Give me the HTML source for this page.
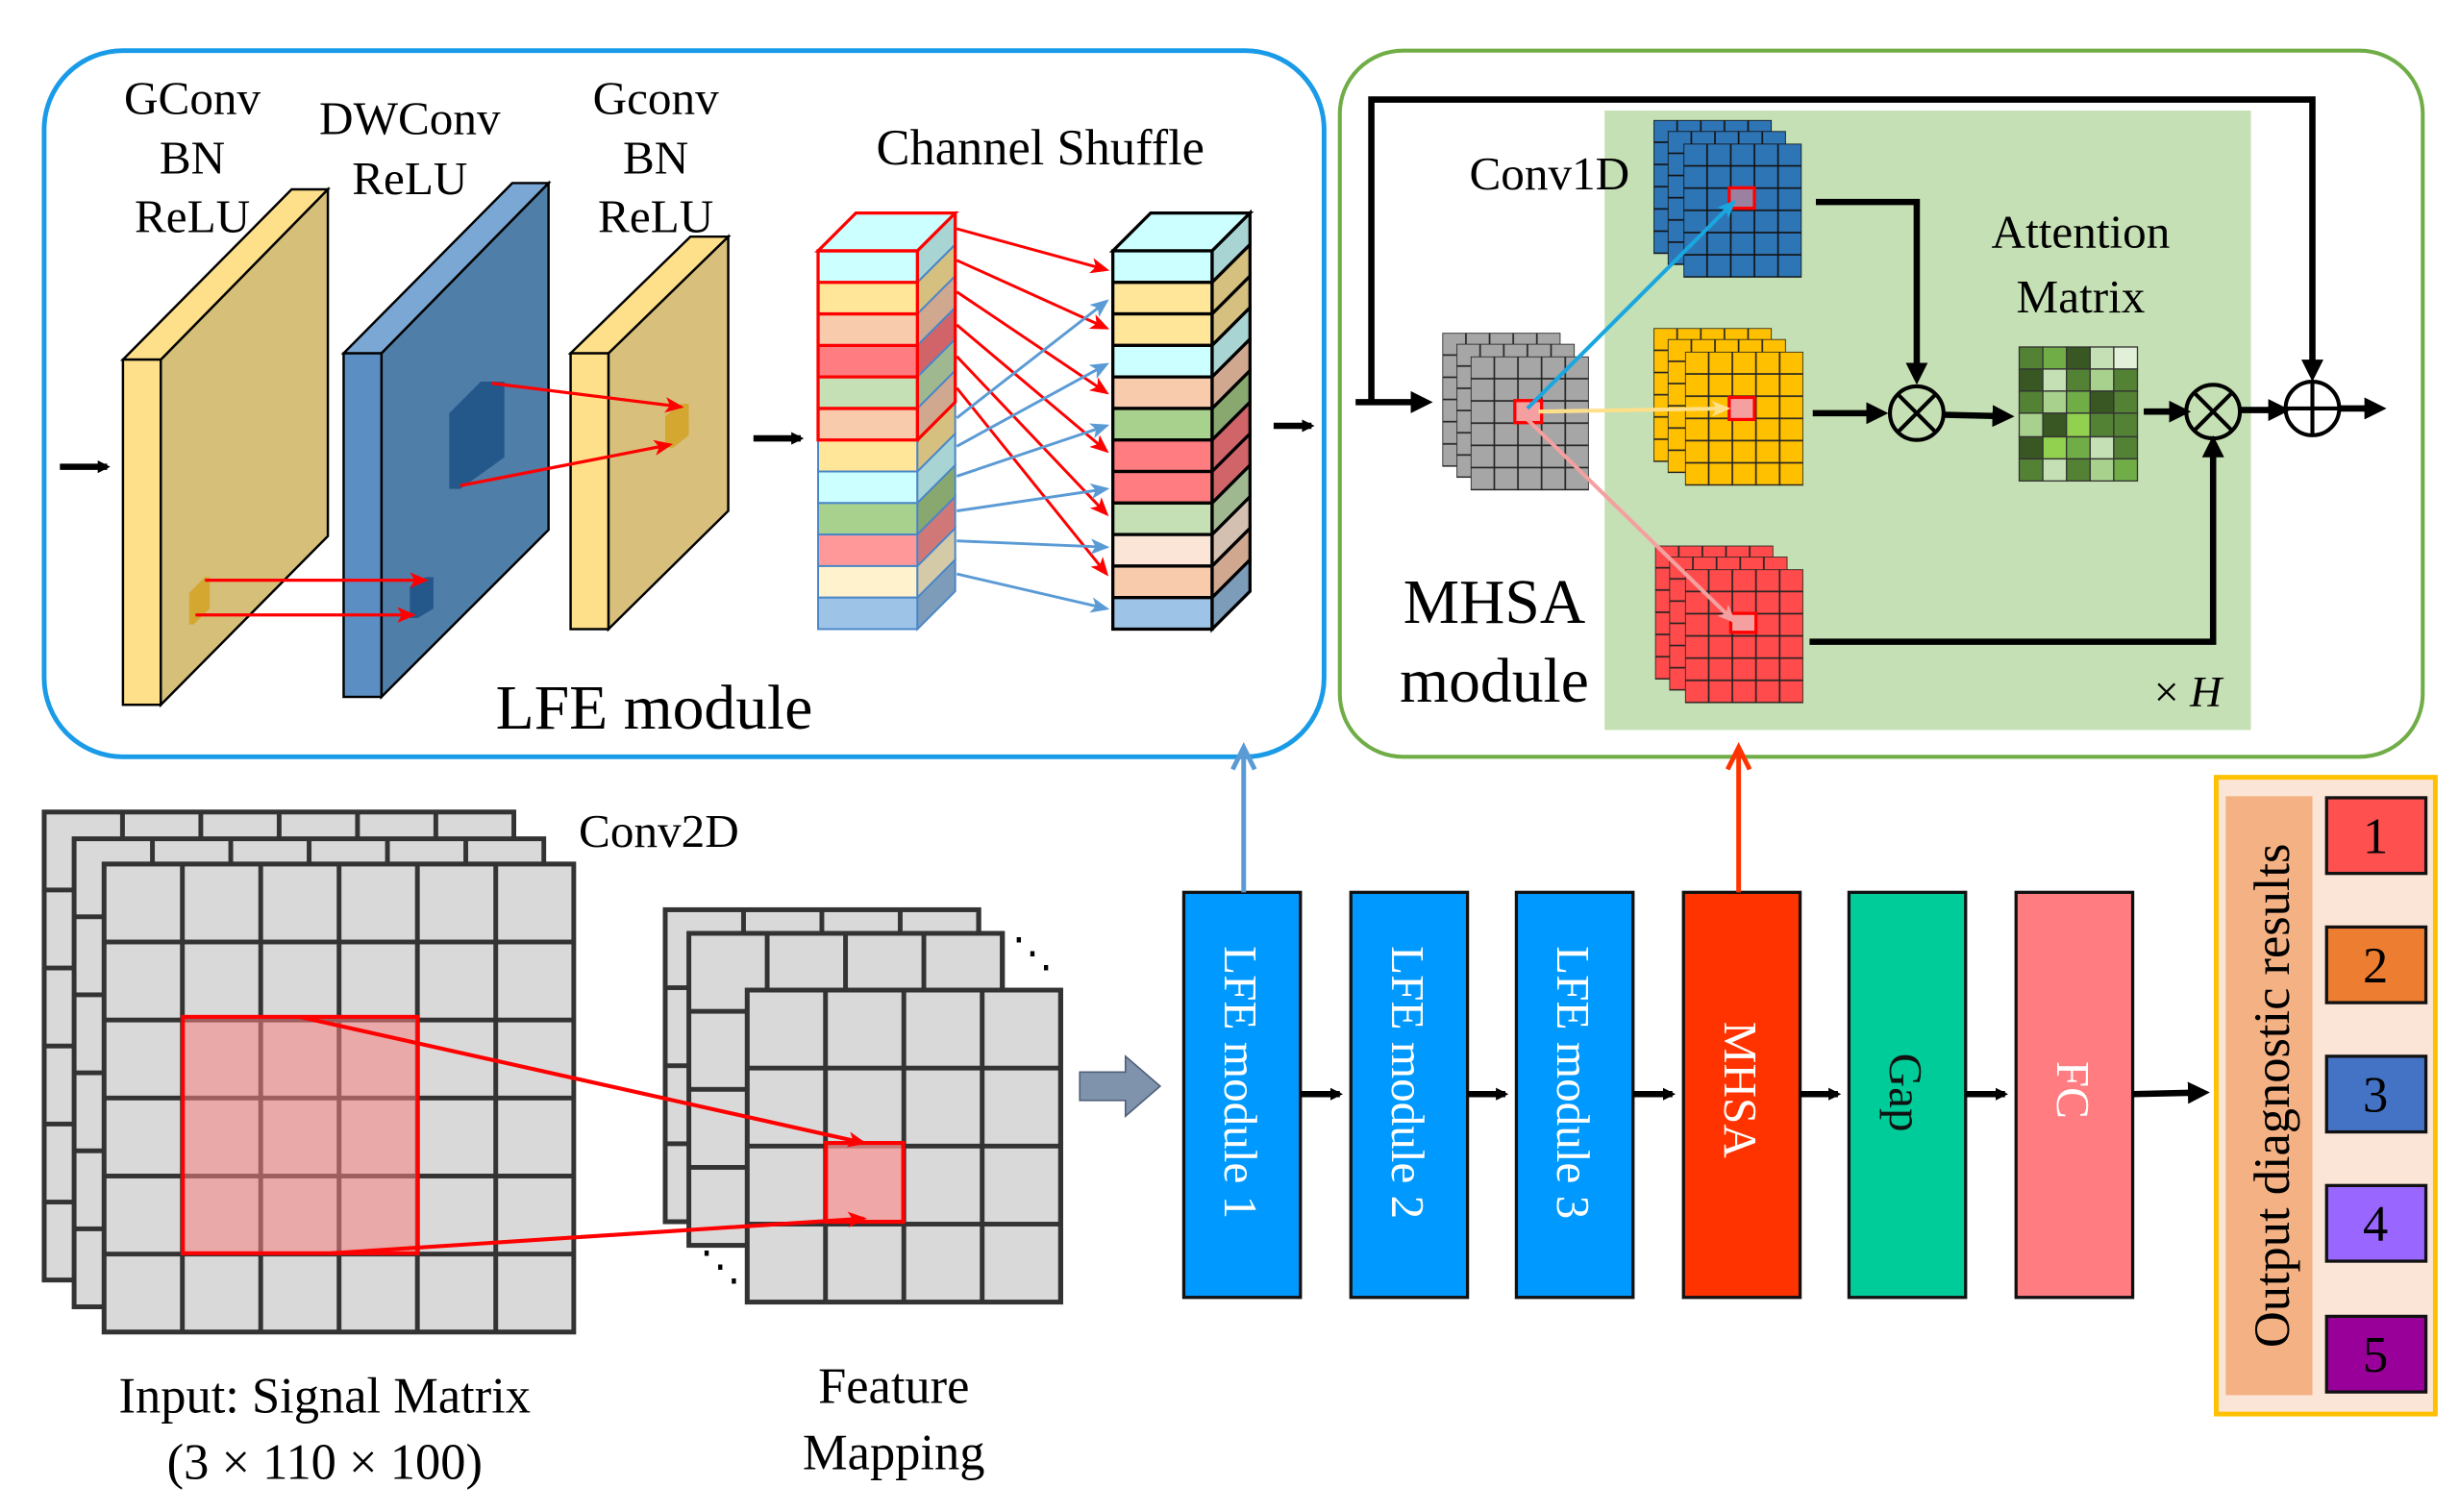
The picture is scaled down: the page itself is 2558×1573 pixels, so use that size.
<!DOCTYPE html>
<html><head><meta charset="utf-8"><style>html,body{margin:0;padding:0;background:#fff}svg{display:block}svg text{font-family:"Liberation Serif","Times New Roman",serif}</style></head><body>
<svg width="2558" height="1573" viewBox="0 0 1560 959" xmlns="http://www.w3.org/2000/svg" font-family="'Liberation Serif', serif">
<defs>
<marker id="ab" markerWidth="8" markerHeight="8" refX="6" refY="4" orient="auto" markerUnits="userSpaceOnUse"><path d="M0,0 L8,4 L0,8 z" fill="#000"/></marker>
<marker id="abig" markerWidth="14" markerHeight="14" refX="10" refY="7" orient="auto" markerUnits="userSpaceOnUse"><path d="M0,0 L14,7 L0,14 z" fill="#000"/></marker>
<marker id="ar" markerWidth="12" markerHeight="10" refX="10" refY="5" orient="auto" markerUnits="userSpaceOnUse"><path d="M0,0 L12,5 L0,10 L3,5 z" fill="#f00"/></marker>
<marker id="abl" markerWidth="12" markerHeight="10" refX="10" refY="5" orient="auto" markerUnits="userSpaceOnUse"><path d="M0,0 L12,5 L0,10 L3,5 z" fill="#5b9bd5"/></marker>
<marker id="acy" markerWidth="12" markerHeight="10" refX="10" refY="5" orient="auto" markerUnits="userSpaceOnUse"><path d="M0,0 L12,5 L0,10 L3,5 z" fill="#1aa7e0"/></marker>
<marker id="aye" markerWidth="12" markerHeight="10" refX="10" refY="5" orient="auto" markerUnits="userSpaceOnUse"><path d="M0,0 L12,5 L0,10 L3,5 z" fill="#ffe08a"/></marker>
<marker id="apk" markerWidth="12" markerHeight="10" refX="10" refY="5" orient="auto" markerUnits="userSpaceOnUse"><path d="M0,0 L12,5 L0,10 L3,5 z" fill="#f4a0a0"/></marker>
<pattern id="g50" width="49.7" height="49.5" patternUnits="userSpaceOnUse"><rect width="49.7" height="49.5" fill="#d9d9d9" stroke="#333" stroke-width="3"/></pattern>
<pattern id="gg" width="15" height="14.1" patternUnits="userSpaceOnUse"><rect width="15" height="14.1" fill="#a6a6a6" stroke="#222" stroke-width="1"/></pattern>
<pattern id="gb" width="15" height="14.1" patternUnits="userSpaceOnUse"><rect width="15" height="14.1" fill="#2e75b6" stroke="#111" stroke-width="1"/></pattern>
<pattern id="gy" width="15" height="14.1" patternUnits="userSpaceOnUse"><rect width="15" height="14.1" fill="#ffc000" stroke="#222" stroke-width="1"/></pattern>
<pattern id="gr" width="15" height="14.1" patternUnits="userSpaceOnUse"><rect width="15" height="14.1" fill="#ff4b4b" stroke="#222" stroke-width="1"/></pattern>
</defs>

<rect x="28" y="32" width="812" height="448" rx="50" fill="none" stroke="#1a9be8" stroke-width="3"/>
<line x1="38" y1="296" x2="68" y2="296" stroke="#000" stroke-width="4" marker-end="url(#ab)"/>
<polygon points="102,228 208,120 208,340 102,447" fill="#d6bf78" stroke="#000" stroke-width="1.5"/>
<polygon points="78,228 102,228 208,120 185,120" fill="#ffe08a" stroke="#000" stroke-width="1.5"/>
<rect x="78" y="228" width="24" height="219" fill="#ffe08a" stroke="#000" stroke-width="1.5"/>
<polygon points="120,376 130,366 133,366 133,386 123,396 120,396" fill="#d4a830"/>
<polygon points="242,224 348,116 348,336 242,442" fill="#4f7ea8" stroke="#000" stroke-width="1.5"/>
<polygon points="218,224 242,224 348,116 325,116" fill="#7aa7d4" stroke="#000" stroke-width="1.5"/>
<rect x="218" y="224" width="24" height="218" fill="#5b8fc4" stroke="#000" stroke-width="1.5"/>
<polygon points="285,262 305,242 320,242 320,290 292,310 285,310" fill="#25588a"/>
<polygon points="260,372 270,366 275,366 275,386 265,392 260,392" fill="#25588a"/>
<polygon points="386,224 462,150 462,324 386,399" fill="#d8c07c" stroke="#000" stroke-width="1.5"/>
<polygon points="362,224 386,224 462,150 438,150" fill="#ffe08a" stroke="#000" stroke-width="1.5"/>
<rect x="362" y="224" width="24" height="175" fill="#ffe08a" stroke="#000" stroke-width="1.5"/>
<polygon points="422,264 432,256 437,256 437,276 427,284 422,284" fill="#d4a830"/>
<line x1="130" y1="368" x2="270" y2="368" stroke="#f00" stroke-width="2" marker-end="url(#ar)"/>
<line x1="124" y1="390" x2="262" y2="390" stroke="#f00" stroke-width="2" marker-end="url(#ar)"/>
<line x1="312" y1="243" x2="432" y2="258" stroke="#f00" stroke-width="2" marker-end="url(#ar)"/>
<line x1="292" y1="308" x2="425" y2="282" stroke="#f00" stroke-width="2" marker-end="url(#ar)"/>
<g font-size="30" text-anchor="middle" fill="#000" font-family="'Liberation Serif', serif">
<text x="122" y="72">GConv</text><text x="122" y="110">BN</text><text x="122" y="147">ReLU</text>
<text x="260" y="85">DWConv</text><text x="260" y="123">ReLU</text>
<text x="416" y="72">Gconv</text><text x="416" y="110">BN</text><text x="416" y="147">ReLU</text>
<text x="660" y="104" font-size="32">Channel Shuffle</text>
<text x="415" y="462" font-size="40">LFE module</text>
</g>
<line x1="478" y1="278" x2="508" y2="278" stroke="#000" stroke-width="4" marker-end="url(#ab)"/>
<g stroke="#4a86c8" stroke-width="1.2">
<polygon points="519,159 582,159 606,135 543,135" fill="#ccffff"/>
<rect x="519" y="159" width="63" height="20" fill="#ccffff"/><polygon points="582,159 606,135 606,155 582,179" fill="#a8d4d4"/>
<rect x="519" y="179" width="63" height="20" fill="#ffe699"/><polygon points="582,179 606,155 606,175 582,199" fill="#d6c080"/>
<rect x="519" y="199" width="63" height="20" fill="#f8cbad"/><polygon points="582,199 606,175 606,195 582,219" fill="#d0a890"/>
<rect x="519" y="219" width="63" height="20" fill="#ff7c80"/><polygon points="582,219 606,195 606,215 582,239" fill="#d06468"/>
<rect x="519" y="239" width="63" height="20" fill="#c5e0b4"/><polygon points="582,239 606,215 606,235 582,259" fill="#a0b890"/>
<rect x="519" y="259" width="63" height="20" fill="#f8cbad"/><polygon points="582,259 606,235 606,255 582,279" fill="#d0a890"/>
<rect x="519" y="279" width="63" height="20" fill="#ffe699"/><polygon points="582,279 606,255 606,275 582,299" fill="#d6c080"/>
<rect x="519" y="299" width="63" height="20" fill="#ccffff"/><polygon points="582,299 606,275 606,295 582,319" fill="#a8d4d4"/>
<rect x="519" y="319" width="63" height="20" fill="#a9d18e"/><polygon points="582,319 606,295 606,315 582,339" fill="#88a870"/>
<rect x="519" y="339" width="63" height="20" fill="#ff9999"/><polygon points="582,339 606,315 606,335 582,359" fill="#d07878"/>
<rect x="519" y="359" width="63" height="20" fill="#fff2cc"/><polygon points="582,359 606,335 606,355 582,379" fill="#d4caa8"/>
<rect x="519" y="379" width="63" height="20" fill="#9dc3e6"/><polygon points="582,379 606,355 606,375 582,399" fill="#7c9cba"/>
</g>
<g fill="none" stroke="#f00" stroke-width="2"><polygon points="519,159 582,159 606,135 543,135"/><rect x="519" y="159" width="63" height="120"/><line x1="519" y1="179" x2="582" y2="179"/><line x1="519" y1="199" x2="582" y2="199"/><line x1="519" y1="219" x2="582" y2="219"/><line x1="519" y1="239" x2="582" y2="239"/><line x1="519" y1="259" x2="582" y2="259"/><polyline points="582,279 606,255 606,135"/></g>
<g stroke="#000" stroke-width="2">
<polygon points="706,159 769,159 793,135 730,135" fill="#ccffff"/>
<rect x="706" y="159" width="63" height="20" fill="#ccffff"/><polygon points="769,159 793,135 793,155 769,179" fill="#a8d4d4"/>
<rect x="706" y="179" width="63" height="20" fill="#ffe699"/><polygon points="769,179 793,155 793,175 769,199" fill="#d6c080"/>
<rect x="706" y="199" width="63" height="20" fill="#ffe699"/><polygon points="769,199 793,175 793,195 769,219" fill="#d6c080"/>
<rect x="706" y="219" width="63" height="20" fill="#ccffff"/><polygon points="769,219 793,195 793,215 769,239" fill="#a8d4d4"/>
<rect x="706" y="239" width="63" height="20" fill="#f8cbad"/><polygon points="769,239 793,215 793,235 769,259" fill="#d0a890"/>
<rect x="706" y="259" width="63" height="20" fill="#a9d18e"/><polygon points="769,259 793,235 793,255 769,279" fill="#88a870"/>
<rect x="706" y="279" width="63" height="20" fill="#ff7c80"/><polygon points="769,279 793,255 793,275 769,299" fill="#d06468"/>
<rect x="706" y="299" width="63" height="20" fill="#ff7c80"/><polygon points="769,299 793,275 793,295 769,319" fill="#d06468"/>
<rect x="706" y="319" width="63" height="20" fill="#c5e0b4"/><polygon points="769,319 793,295 793,315 769,339" fill="#a0b890"/>
<rect x="706" y="339" width="63" height="20" fill="#fbe5d6"/><polygon points="769,339 793,315 793,335 769,359" fill="#d4c0b0"/>
<rect x="706" y="359" width="63" height="20" fill="#f8cbad"/><polygon points="769,359 793,335 793,355 769,379" fill="#d0a890"/>
<rect x="706" y="379" width="63" height="20" fill="#9dc3e6"/><polygon points="769,379 793,355 793,375 769,399" fill="#7c9cba"/>
</g>
<g stroke="#f00" stroke-width="1.8">
<line x1="607" y1="145" x2="702" y2="171" marker-end="url(#ar)"/>
<line x1="607" y1="165" x2="702" y2="208" marker-end="url(#ar)"/>
<line x1="607" y1="185" x2="702" y2="249" marker-end="url(#ar)"/>
<line x1="607" y1="206" x2="702" y2="286" marker-end="url(#ar)"/>
<line x1="607" y1="226" x2="702" y2="326" marker-end="url(#ar)"/>
<line x1="607" y1="246" x2="702" y2="364" marker-end="url(#ar)"/>
</g>
<g stroke="#5b9bd5" stroke-width="1.8">
<line x1="607" y1="265" x2="702" y2="191" marker-end="url(#abl)"/>
<line x1="607" y1="283" x2="702" y2="231" marker-end="url(#abl)"/>
<line x1="607" y1="302" x2="702" y2="270" marker-end="url(#abl)"/>
<line x1="607" y1="324" x2="702" y2="310" marker-end="url(#abl)"/>
<line x1="607" y1="343" x2="702" y2="347" marker-end="url(#abl)"/>
<line x1="607" y1="364" x2="702" y2="386" marker-end="url(#abl)"/>
</g>
<line x1="808" y1="270" x2="832" y2="270" stroke="#000" stroke-width="4" marker-end="url(#ab)"/>

<rect x="850" y="32" width="687" height="448" rx="40" fill="none" stroke="#70ad47" stroke-width="2.5"/>
<rect x="1018" y="70" width="410" height="393" fill="#c5e0b4"/>
<polyline points="870,255 870,63 1467,63 1467,238" fill="none" stroke="#000" stroke-width="4" marker-end="url(#abig)"/>
<line x1="860" y1="255" x2="905" y2="255" stroke="#000" stroke-width="4" marker-end="url(#abig)"/>
<rect x="0" y="0" width="75" height="85" fill="url(#gg)" transform="translate(915,211)"/>
<rect x="0" y="0" width="75" height="85" fill="url(#gg)" transform="translate(924,218)"/>
<rect x="0" y="0" width="75" height="85" fill="url(#gg)" transform="translate(933,226)"/>
<rect x="961" y="254" width="17" height="14" fill="#f4a0a0" stroke="#f00" stroke-width="2"/>
<rect x="0" y="0" width="75" height="85" fill="url(#gb)" transform="translate(1049,76)"/>
<rect x="0" y="0" width="75" height="85" fill="url(#gb)" transform="translate(1058,83)"/>
<rect x="0" y="0" width="75" height="85" fill="url(#gb)" transform="translate(1068,91)"/>
<rect x="1097" y="119" width="16" height="13" fill="#9b80a0" stroke="#f00" stroke-width="2"/>
<rect x="0" y="0" width="75" height="85" fill="url(#gy)" transform="translate(1049,208)"/>
<rect x="0" y="0" width="75" height="85" fill="url(#gy)" transform="translate(1058,215)"/>
<rect x="0" y="0" width="75" height="85" fill="url(#gy)" transform="translate(1069,223)"/>
<rect x="1097" y="252" width="16" height="14" fill="#f4a0a0" stroke="#f00" stroke-width="2"/>
<rect x="0" y="0" width="75" height="85" fill="url(#gr)" transform="translate(1050,346)"/>
<rect x="0" y="0" width="75" height="85" fill="url(#gr)" transform="translate(1059,353)"/>
<rect x="0" y="0" width="75" height="85" fill="url(#gr)" transform="translate(1069,361)"/>
<rect x="1098" y="389" width="16" height="12" fill="#f4a0a0" stroke="#f00" stroke-width="2"/>
<line x1="969" y1="259" x2="1100" y2="128" stroke="#1aa7e0" stroke-width="2.5" marker-end="url(#acy)"/>
<line x1="976" y1="261" x2="1096" y2="259" stroke="#ffe08a" stroke-width="2.5" marker-end="url(#aye)"/>
<line x1="969" y1="266" x2="1100" y2="394" stroke="#f4a0a0" stroke-width="2.5" marker-end="url(#apk)"/>
<polyline points="1152,128 1216,128 1216,240" fill="none" stroke="#000" stroke-width="4" marker-end="url(#abig)"/>
<line x1="1150" y1="262" x2="1194" y2="262" stroke="#000" stroke-width="4" marker-end="url(#abig)"/>
<g fill="none" stroke="#000" stroke-width="2.5">
<circle cx="1216" cy="262" r="17"/><line x1="1204" y1="250" x2="1228" y2="274"/><line x1="1228" y1="250" x2="1204" y2="274"/>
<circle cx="1404" cy="261" r="17"/><line x1="1392" y1="249" x2="1416" y2="273"/><line x1="1416" y1="249" x2="1392" y2="273"/>
<circle cx="1467" cy="259" r="17"/><line x1="1450" y1="259" x2="1484" y2="259"/><line x1="1467" y1="242" x2="1467" y2="276"/>
</g>
<line x1="1233" y1="263" x2="1274" y2="264" stroke="#000" stroke-width="4" marker-end="url(#abig)"/>
<g stroke="#333" stroke-width="0.8">
<rect x="1281" y="220" width="15" height="14" fill="#548235"/><rect x="1296" y="220" width="15" height="14" fill="#70ad47"/><rect x="1311" y="220" width="15" height="14" fill="#385723"/><rect x="1326" y="220" width="15" height="14" fill="#c5e0b4"/><rect x="1341" y="220" width="15" height="14" fill="#e2f0d9"/>
<rect x="1281" y="234" width="15" height="14" fill="#385723"/><rect x="1296" y="234" width="15" height="14" fill="#c5e0b4"/><rect x="1311" y="234" width="15" height="14" fill="#548235"/><rect x="1326" y="234" width="15" height="14" fill="#a9d18e"/><rect x="1341" y="234" width="15" height="14" fill="#548235"/>
<rect x="1281" y="248" width="15" height="14" fill="#548235"/><rect x="1296" y="248" width="15" height="14" fill="#a9d18e"/><rect x="1311" y="248" width="15" height="14" fill="#70ad47"/><rect x="1326" y="248" width="15" height="14" fill="#385723"/><rect x="1341" y="248" width="15" height="14" fill="#548235"/>
<rect x="1281" y="262" width="15" height="15" fill="#a9d18e"/><rect x="1296" y="262" width="15" height="15" fill="#385723"/><rect x="1311" y="262" width="15" height="15" fill="#92d050"/><rect x="1326" y="262" width="15" height="15" fill="#548235"/><rect x="1341" y="262" width="15" height="15" fill="#548235"/>
<rect x="1281" y="277" width="15" height="14" fill="#385723"/><rect x="1296" y="277" width="15" height="14" fill="#92d050"/><rect x="1311" y="277" width="15" height="14" fill="#70ad47"/><rect x="1326" y="277" width="15" height="14" fill="#c5e0b4"/><rect x="1341" y="277" width="15" height="14" fill="#548235"/>
<rect x="1281" y="291" width="15" height="14" fill="#548235"/><rect x="1296" y="291" width="15" height="14" fill="#c5e0b4"/><rect x="1311" y="291" width="15" height="14" fill="#548235"/><rect x="1326" y="291" width="15" height="14" fill="#a9d18e"/><rect x="1341" y="291" width="15" height="14" fill="#70ad47"/>
</g>
<line x1="1360" y1="261" x2="1386" y2="261" stroke="#000" stroke-width="4" marker-end="url(#abig)"/>
<polyline points="1148,407 1404,407 1404,280" fill="none" stroke="#000" stroke-width="4" marker-end="url(#abig)"/>
<line x1="1421" y1="260" x2="1449" y2="260" stroke="#000" stroke-width="4" marker-end="url(#abig)"/>
<line x1="1484" y1="259" x2="1510" y2="259" stroke="#000" stroke-width="4" marker-end="url(#abig)"/>
<g font-size="30" text-anchor="middle" font-family="'Liberation Serif', serif">
<text x="983" y="120">Conv1D</text>
<text x="1320" y="157">Attention</text><text x="1320" y="198">Matrix</text>
<text x="948" y="395" font-size="40">MHSA</text><text x="948" y="445" font-size="40">module</text>
<text x="1388" y="448" font-size="28">× <tspan font-style="italic">H</tspan></text>
</g>

<rect x="0" y="0" width="298" height="297" fill="url(#g50)" stroke="#333" stroke-width="3" transform="translate(28,515)"/>
<rect x="0" y="0" width="298" height="297" fill="url(#g50)" stroke="#333" stroke-width="3" transform="translate(47,532)"/>
<rect x="0" y="0" width="298" height="297" fill="url(#g50)" stroke="#333" stroke-width="3" transform="translate(66,548)"/>
<rect x="116" y="645" width="149" height="150" fill="rgba(245,130,130,0.55)" stroke="#f00" stroke-width="2.5"/>
<rect x="0" y="0" width="199" height="198" fill="url(#g50)" stroke="#333" stroke-width="3" transform="translate(422,577)"/>
<rect x="0" y="0" width="199" height="198" fill="url(#g50)" stroke="#333" stroke-width="3" transform="translate(437,592)"/>
<rect x="0" y="0" width="199" height="198" fill="url(#g50)" stroke="#333" stroke-width="3" transform="translate(474,628)"/>
<rect x="524" y="725" width="49" height="50" fill="rgba(245,150,150,0.75)" stroke="#f00" stroke-width="2.5"/>
<line x1="190" y1="645" x2="548" y2="725" stroke="#f00" stroke-width="2.5" marker-end="url(#ar)"/>
<line x1="210" y1="795" x2="548" y2="773" stroke="#f00" stroke-width="2.5" marker-end="url(#ar)"/>
<g font-size="32" text-anchor="middle" font-family="'Liberation Serif', serif">
<text x="418" y="537" font-size="30">Conv2D</text>
<text x="655" y="613" font-size="26">⋱</text>
<text x="457" y="812" font-size="26">⋱</text>
<text x="206" y="896">Input: Signal Matrix</text><text x="206" y="938">(3 × 110 × 100)</text>
<text x="567" y="890">Feature</text><text x="567" y="932">Mapping</text>
</g>
<polygon points="685,680 714,680 714,670 736,689 714,708 714,698 685,698" fill="#7f93ad" stroke="#50607a" stroke-width="1"/>
<g stroke="#111" stroke-width="2">
<rect x="751" y="566" width="74" height="257" fill="#0099ff"/>
<rect x="857" y="566" width="74" height="257" fill="#0099ff"/>
<rect x="962" y="566" width="74" height="257" fill="#0099ff"/>
<rect x="1068" y="566" width="74" height="257" fill="#ff3300"/>
<rect x="1173" y="566" width="74" height="257" fill="#00cc99"/>
<rect x="1279" y="566" width="74" height="257" fill="#ff7c80"/>
</g>
<line x1="789" y1="566" x2="789" y2="474" stroke="#5b9bd5" stroke-width="3"/>
<polyline points="782,488 789,474 796,488" fill="none" stroke="#5b9bd5" stroke-width="3"/>
<line x1="1103" y1="566" x2="1103" y2="474" stroke="#ff3300" stroke-width="3"/>
<polyline points="1096,488 1103,474 1110,488" fill="none" stroke="#ff3300" stroke-width="3"/>
<g font-size="30" fill="#fff" font-family="'Liberation Serif', serif">
<text transform="translate(777,600) rotate(90)">LFE module 1</text>
<text transform="translate(883,600) rotate(90)">LFE module 2</text>
<text transform="translate(988,600) rotate(90)">LFE module 3</text>
<text transform="translate(1094,648) rotate(90)">MHSA</text>
<text transform="translate(1199,668) rotate(90)" fill="#111">Gap</text>
<text transform="translate(1305,673) rotate(90)">FC</text>
</g>
<g stroke="#000" stroke-width="4">
<line x1="825" y1="694" x2="850" y2="694" marker-end="url(#ab)"/>
<line x1="931" y1="694" x2="955" y2="694" marker-end="url(#ab)"/>
<line x1="1036" y1="694" x2="1061" y2="694" marker-end="url(#ab)"/>
<line x1="1142" y1="694" x2="1166" y2="694" marker-end="url(#ab)"/>
<line x1="1247" y1="694" x2="1272" y2="694" marker-end="url(#ab)"/>
<line x1="1353" y1="694" x2="1398" y2="693" marker-end="url(#abig)"/>
</g>
<rect x="1406" y="493" width="139" height="404" fill="#fbe5d6" stroke="#ffc000" stroke-width="3"/>
<rect x="1412" y="505" width="55" height="380" fill="#f4b183"/>
<g stroke="#111" stroke-width="2">
<rect x="1476" y="506" width="63" height="48" fill="#ff5050"/>
<rect x="1476" y="588" width="63" height="48" fill="#ed7d31"/>
<rect x="1476" y="670" width="63" height="48" fill="#4472c4"/>
<rect x="1476" y="752" width="63" height="48" fill="#9966ff"/>
<rect x="1476" y="835" width="63" height="48" fill="#990099"/>
</g>
<g font-size="32" text-anchor="middle" font-family="'Liberation Serif', serif">
<text transform="translate(1452,695) rotate(-90)">Output diagnostic results</text>
<text x="1507" y="541">1</text><text x="1507" y="623">2</text><text x="1507" y="705">3</text><text x="1507" y="787">4</text><text x="1507" y="870">5</text>
</g>
</svg>
</body></html>
